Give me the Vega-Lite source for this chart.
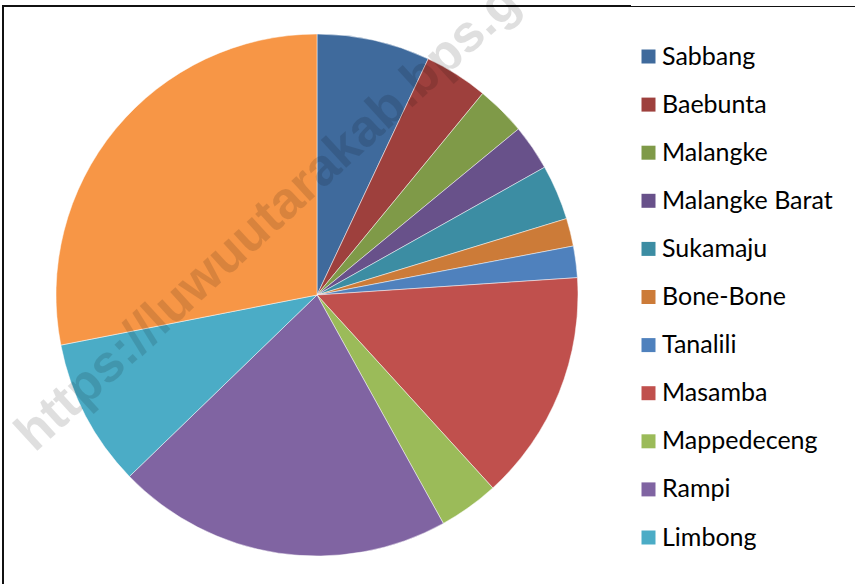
{
  "$schema": "https://vega.github.io/schema/vega-lite/v6.json",
  "width": 628,
  "height": 578,
  "autosize": {"type": "none"},
  "padding": {"left": 3, "top": 6, "right": 224, "bottom": 0},
  "background": "white",
  "view": {"stroke": "#111111", "strokeWidth": 2, "strokeDash": [628, 1206, 578, 4000]},
  "config": {
    "view": {"stroke": "#111111", "strokeWidth": 2, "strokeDash": [628, 1206, 578, 4000]},
    "legend": {"strokeDash": [400, 5000]}
  },
  "layer": [
    {
      "data": {
        "values": [
          {"kecamatan": "Sabbang", "luas": 525.08, "urut": 1},
          {"kecamatan": "Baebunta", "luas": 296, "urut": 2},
          {"kecamatan": "Malangke", "luas": 231, "urut": 3},
          {"kecamatan": "Malangke Barat", "luas": 212, "urut": 4},
          {"kecamatan": "Sukamaju", "luas": 256, "urut": 5},
          {"kecamatan": "Bone-Bone", "luas": 129, "urut": 6},
          {"kecamatan": "Tanalili", "luas": 146, "urut": 7},
          {"kecamatan": "Masamba", "luas": 1072, "urut": 8},
          {"kecamatan": "Mappedeceng", "luas": 279, "urut": 9},
          {"kecamatan": "Rampi", "luas": 1560, "urut": 10},
          {"kecamatan": "Limbong", "luas": 687, "urut": 11},
          {"kecamatan": "Seko", "luas": 2105, "urut": 12}
        ]
      },
      "mark": {"type": "arc", "outerRadius": 261, "stroke": "#ffffff", "strokeWidth": 0.6, "strokeOpacity": 0.8},
      "encoding": {
        "theta": {"field": "luas", "type": "quantitative", "stack": true},
        "order": {"field": "urut", "type": "quantitative"},
        "color": {
          "field": "kecamatan",
          "type": "nominal",
          "scale": {
            "domain": ["Sabbang", "Baebunta", "Malangke", "Malangke Barat", "Sukamaju", "Bone-Bone", "Tanalili", "Masamba", "Mappedeceng", "Rampi", "Limbong", "Seko"],
            "range": ["#3F6A9C", "#9E403D", "#7F9A48", "#68518A", "#3C8DA3", "#CC7B38", "#4F81BD", "#C0504D", "#9BBB59", "#8064A2", "#4BACC6", "#F79646"]
          },
          "legend": {
            "values": ["Sabbang", "Baebunta", "Malangke", "Malangke Barat", "Sukamaju", "Bone-Bone", "Tanalili", "Masamba", "Mappedeceng", "Rampi", "Limbong"],
            "title": null,
            "orient": "none",
            "legendX": 595,
            "legendY": 0,
            "padding": 38,
            "strokeColor": "#111111",
            "symbolType": "square",
            "symbolSize": 196,
            "symbolStrokeWidth": 0,
            "symbolOpacity": 1,
            "labelFont": "Lato",
            "labelFontSize": 25,
            "labelColor": "#000000",
            "labelOffset": 1,
            "labelLimit": 400,
            "rowPadding": 22.1
          }
        }
      }
    },
    {
      "data": {"values": [{"teks": "https://luwuutarakab.bps.go.id"}]},
      "mark": {
        "type": "text",
        "font": "Liberation Sans",
        "fontWeight": "bold",
        "fontSize": 52,
        "angle": -42.5,
        "align": "center",
        "baseline": "middle",
        "dx": 62,
        "dy": -90,
        "fill": "#000000",
        "opacity": 0.12
      },
      "encoding": {"text": {"field": "teks"}}
    }
  ]
}
